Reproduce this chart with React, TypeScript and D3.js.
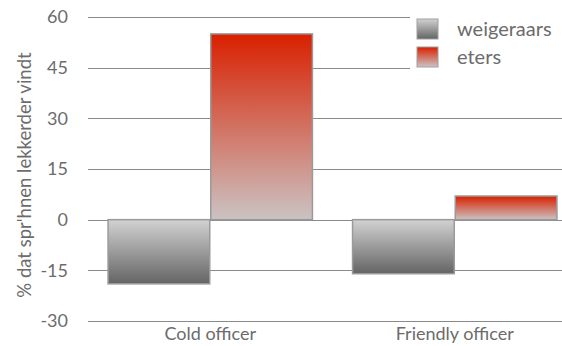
import React from "react";
import * as d3 from "d3";

const categories = ["Cold officer", "Friendly officer"];
const seriesNames = ["weigeraars", "eters"];
const weigeraars = [-19, -16];
const eters = [55, 7];
const yTicks = [60, 45, 30, 15, 0, -15, -30];

const W = 562;
const H = 346;

export default function App() {
  const y = d3.scaleLinear().domain([-30, 60]).range([321, 17]);
  const x0 = d3
    .scaleBand<string>()
    .domain(categories)
    .range([88, 577])
    .paddingInner(0.16)
    .paddingOuter(0.08);
  const x1 = d3
    .scaleBand<string>()
    .domain(seriesNames)
    .range([0, x0.bandwidth()]);

  const seriesValues: Record<string, number[]> = { weigeraars, eters };
  const fills: Record<string, string> = {
    weigeraars: "url(#gradGray)",
    eters: "url(#gradRed)",
  };
  const font = "'Lato', 'Open Sans', sans-serif";
  const textColor = "#6c6c6c";

  return (
    <svg
      width={W}
      height={H}
      style={{ position: "absolute", left: 0, top: 0, background: "#fff" }}
    >
      <defs>
        <linearGradient id="gradGray" x1="0" y1="0" x2="0" y2="1">
          <stop offset="0%" stopColor="#d2d2d2" />
          <stop offset="100%" stopColor="#646464" />
        </linearGradient>
        <linearGradient id="gradRed" x1="0" y1="0" x2="0" y2="1">
          <stop offset="0%" stopColor="#d92000" />
          <stop offset="100%" stopColor="#cbc3c3" />
        </linearGradient>
      </defs>

      {/* horizontal grid lines; the top two stop short of the legend */}
      {yTicks.map((t) => (
        <line
          key={t}
          x1={88}
          x2={t >= 45 ? 410 : W}
          y1={Math.round(y(t)) + 0.5}
          y2={Math.round(y(t)) + 0.5}
          stroke="#8a8a8a"
          strokeWidth={1}
        />
      ))}

      {/* y tick labels */}
      {yTicks.map((t) => (
        <text
          key={"l" + t}
          x={68}
          y={y(t)}
          dy="0.35em"
          textAnchor="end"
          fontFamily={font}
          fontSize={18}
          fill={textColor}
        >
          {t}
        </text>
      ))}

      {/* y axis title */}
      <text
        transform={`translate(31,${175}) rotate(-90)`}
        textAnchor="middle"
        fontFamily={font}
        fontSize={18.5}
        fill={textColor}
      >
        % dat spr'hnen lekkerder vindt
      </text>

      {/* bars */}
      {categories.map((c, i) => (
        <g key={c} transform={`translate(${x0(c)},0)`}>
          {seriesNames.map((s) => {
            const v = seriesValues[s][i];
            const top = y(Math.max(0, v));
            const bottom = y(Math.min(0, v));
            return (
              <rect
                key={s}
                x={(x1(s) as number) + 0.5}
                y={top}
                width={x1.bandwidth() - 1}
                height={bottom - top}
                fill={fills[s]}
                stroke="#9a9a9a"
                strokeWidth={1.5}
              />
            );
          })}
        </g>
      ))}

      {/* category labels */}
      {categories.map((c) => (
        <text
          key={"c" + c}
          x={(x0(c) as number) + x0.bandwidth() / 2}
          y={340}
          textAnchor="middle"
          fontFamily={font}
          fontSize={18}
          fill={textColor}
        >
          {c}
        </text>
      ))}

      {/* legend */}
      {seriesNames.map((s, i) => (
        <g key={"lg" + s} transform={`translate(417,${19 + i * 28})`}>
          <rect
            x={0}
            y={0}
            width={21}
            height={20}
            fill={fills[s]}
            stroke="#a0a0a0"
            strokeWidth={1}
          />
          <text
            x={40}
            y={17}
            fontFamily={font}
            fontSize={20}
            fill={textColor}
          >
            {s}
          </text>
        </g>
      ))}
    </svg>
  );
}
